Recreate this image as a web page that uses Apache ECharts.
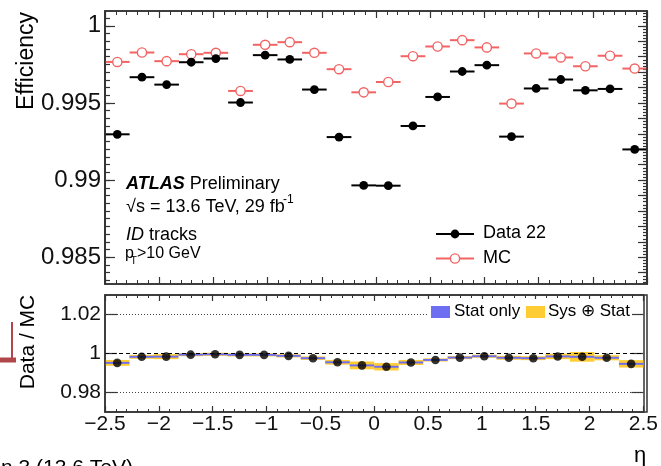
<!DOCTYPE html>
<html>
<head>
<meta charset="utf-8">
<script src="https://cdn.jsdelivr.net/npm/echarts@6/dist/echarts.min.js"></script>
</head>
<body style="margin:0">
<div id="container" style="width:661px;height:466px"></div>
<script>
// eta bin edges (22 bins)
var binEdges = [-2.5, -2.273, -2.045, -1.818, -1.591, -1.364, -1.136, -0.909, -0.682, -0.455, -0.227, 0,
                0.227, 0.455, 0.682, 0.909, 1.136, 1.364, 1.591, 1.818, 2.045, 2.273, 2.5];
var dataEff = [0.99297, 0.99667, 0.99619, 0.99764, 0.99788, 0.99503, 0.99810, 0.99782, 0.99587, 0.99279, 0.98966,
               0.98964, 0.99351, 0.99539, 0.99704, 0.99745, 0.99282, 0.99594, 0.99652, 0.99582, 0.99591, 0.99199];
var mcEff = [0.99766, 0.99827, 0.99771, 0.99816, 0.99825, 0.99578, 0.99877, 0.99894, 0.99825, 0.99719, 0.99569,
             0.99636, 0.99803, 0.99866, 0.99907, 0.99860, 0.99496, 0.99821, 0.99795, 0.99738, 0.99806, 0.99723];
var ratio = [0.9952, 0.9983, 0.9984, 0.9994, 0.9996, 0.9993, 0.9993, 0.9988, 0.9976, 0.9955, 0.9939,
             0.9932, 0.9954, 0.9967, 0.9979, 0.9986, 0.9978, 0.9976, 0.9985, 0.9983, 0.9978, 0.9947];
var statErr = [0.0005, 0.0005, 0.0005, 0.0005, 0.0005, 0.0005, 0.0005, 0.0005, 0.0005, 0.0005, 0.0005,
               0.0005, 0.0005, 0.0005, 0.0005, 0.0005, 0.0005, 0.0005, 0.0005, 0.0005, 0.0005, 0.0005];
var sysErr = [0.0015, 0.001, 0.0013, 0.0008, 0.0008, 0.0008, 0.0008, 0.0008, 0.0009, 0.0012, 0.002,
              0.0019, 0.0013, 0.0008, 0.0008, 0.0008, 0.001, 0.001, 0.0014, 0.0025, 0.0013, 0.0019];
var topTicks = [0.985, 0.99, 0.995, 1];
var ratioTicks = [0.98, 1, 1.02];

var FONT = 'Liberation Sans, Arial, sans-serif';
var axisColor = '#333';
var red = '#f26464';

function steps(a, b, d) {
    var out = [];
    for (var v = a; v <= b + 1e-9; v += d) out.push(Math.round(v * 1e5) / 1e5);
    return out;
}

var binned = function (vals, errs) {
    return vals.map(function (v, i) {
        return [binEdges[i], binEdges[i + 1], v, errs ? errs[i] : 0];
    });
};
var centers = ratio.map(function (r, i) { return [(binEdges[i] + binEdges[i + 1]) / 2, r]; });

function effItem(color, filled) {
    return function (params, api) {
        var lo = api.coord([api.value(0), api.value(2)]);
        var hi = api.coord([api.value(1), api.value(2)]);
        return {
            type: 'group',
            children: [
                {type: 'line', shape: {x1: lo[0], y1: lo[1], x2: hi[0], y2: hi[1]}, style: {stroke: color, lineWidth: 2}},
                {type: 'circle', shape: {cx: (lo[0] + hi[0]) / 2, cy: lo[1], r: filled ? 4.4 : 4.6},
                 style: {fill: filled ? color : '#fff', stroke: color, lineWidth: filled ? 0 : 1.4}}
            ]
        };
    };
}
function bandItem(color) {
    return function (params, api) {
        var p1 = api.coord([api.value(0), api.value(2) + api.value(3)]);
        var p2 = api.coord([api.value(1), api.value(2) - api.value(3)]);
        return {type: 'rect', shape: {x: p1[0], y: p1[1], width: p2[0] - p1[0], height: p2[1] - p1[1]}, style: {fill: color}};
    };
}

function xAx(grid, pos, showLabel, len, minorLen) {
    return {
        type: 'value', gridIndex: grid, position: pos, min: -2.5, max: 2.5, interval: 0.5,
        axisLine: {show: true, onZero: false, lineStyle: {color: axisColor, width: 1.5}},
        axisTick: {show: true, inside: true, length: len, lineStyle: {color: axisColor, width: 1.2}},
        minorTick: {show: true, splitNumber: 5, length: minorLen, lineStyle: {color: axisColor, width: 1}},
        splitLine: {show: false},
        axisLabel: {show: showLabel, fontSize: 21, fontFamily: FONT, color: '#111', margin: 2,
            formatter: function (v) { return String(v).replace('-', '\u2212'); }}
    };
}
function yAx(grid, pos, min, max, ticks, len, showLabel, fs) {
    return {
        type: 'value', gridIndex: grid, position: pos, min: min, max: max,
        axisLine: {show: true, onZero: false, lineStyle: {color: axisColor, width: 1.5}},
        axisTick: {show: true, inside: true, length: len, customValues: ticks, lineStyle: {color: axisColor, width: 1.2}},
        splitLine: {show: false},
        axisLabel: {show: showLabel, customValues: ticks, fontSize: fs, fontFamily: FONT, color: '#111', margin: 4,
            padding: [3, 0, 0, 0],
            formatter: function (v) { return String(v); }}
    };
}

var yTopMin = 0.98327, yTopMax = 1.00096;

var txt = function (x, y, text, size, extra) {
    var s = {text: text, x: x, y: y, fontSize: size, fontFamily: FONT, fill: '#000', verticalAlign: 'middle', align: 'left'};
    for (var k in extra) s[k] = extra[k];
    return {type: 'text', z: 100, style: s};
};

var myChart = echarts.init(document.getElementById('container'));
var option = {
    animation: false,
    grid: [
        {left: 105, top: 11, width: 542, height: 273, show: false},
        {left: 105, top: 295, width: 542, height: 117, show: false}
    ],
    xAxis: [
        xAx(0, 'bottom', false, 7, 4),
        xAx(0, 'top', false, 7, 4),
        xAx(1, 'bottom', true, 6, 3),
        xAx(1, 'top', false, 6, 3)
    ],
    yAxis: [
        yAx(0, 'left', yTopMin, yTopMax, topTicks, 10, true, 24),
        yAx(0, 'left', yTopMin, yTopMax, steps(0.9835, 1.0005, 0.0005), 5, false, 10),
        yAx(0, 'right', yTopMin, yTopMax, steps(0.984, 1, 0.001), 9, false, 10),
        yAx(0, 'right', yTopMin, yTopMax, steps(0.9834, 1.0008, 0.0002), 4, false, 10),
        yAx(1, 'left', 0.97, 1.03, ratioTicks, 12, true, 21),
        yAx(1, 'right', 0.97, 1.03, ratioTicks, 12, false, 10)
    ],
    series: [
        {type: 'custom', name: 'MC', xAxisIndex: 0, yAxisIndex: 0, renderItem: effItem(red, false),
         encode: {x: [0, 1], y: 2}, data: binned(mcEff), z: 3},
        {type: 'custom', name: 'Data 22', xAxisIndex: 0, yAxisIndex: 0, renderItem: effItem('#000', true),
         encode: {x: [0, 1], y: 2}, data: binned(dataEff), z: 4},
        {type: 'line', xAxisIndex: 2, yAxisIndex: 4, data: [], z: 1,
         markLine: {silent: true, symbol: 'none', label: {show: false},
            data: [
                {yAxis: 1, lineStyle: {type: [4, 3], color: '#000', width: 1}},
                {yAxis: 1.02, lineStyle: {type: [1, 2], color: '#444', width: 1}},
                {yAxis: 0.98, lineStyle: {type: [1, 2], color: '#444', width: 1}}
            ]}},
        {type: 'custom', name: 'Sys', xAxisIndex: 2, yAxisIndex: 4, renderItem: bandItem('#ffcc33'),
         encode: {x: [0, 1], y: 2}, data: binned(ratio, sysErr), z: 2},
        {type: 'custom', name: 'Stat', xAxisIndex: 2, yAxisIndex: 4, renderItem: bandItem('#6e6ef2'),
         encode: {x: [0, 1], y: 2}, data: binned(ratio, statErr), z: 3},
        {type: 'scatter', xAxisIndex: 2, yAxisIndex: 4, data: centers, symbolSize: 8.6,
         itemStyle: {color: '#000'}, z: 5}
    ],
    graphic: [
        // frames
        {type: 'rect', z: 50, shape: {x: 105, y: 11, width: 542, height: 273}, style: {fill: 'none', stroke: axisColor, lineWidth: 1.5}},
        {type: 'rect', z: 50, shape: {x: 105, y: 295, width: 542, height: 117}, style: {fill: 'none', stroke: axisColor, lineWidth: 1.5}},
        // axis titles
        {type: 'text', z: 100, x: 27, y: 61, rotation: Math.PI / 2,
         style: {text: 'Efficiency', fontSize: 23, fontFamily: FONT, fill: '#000', align: 'center', verticalAlign: 'middle'}},
        {type: 'text', z: 100, x: 28, y: 342, rotation: Math.PI / 2,
         style: {text: 'Data / MC', fontSize: 21, fontFamily: FONT, fill: '#000', align: 'center', verticalAlign: 'middle'}},
        txt(640, 456, '\u03b7', 22, {align: 'center'}),
        // ATLAS label
        {type: 'text', z: 100, style: {x: 126, y: 184, text: '{b|ATLAS} Preliminary', fontSize: 18, fontFamily: FONT, fill: '#000',
            verticalAlign: 'middle', rich: {b: {fontSize: 18, fontWeight: 'bold', fontStyle: 'italic', fontFamily: FONT}}}},
        txt(126, 207, '\u221As = 13.6 TeV, 29 fb', 18),
        txt(283, 199.5, '-1', 12),
        {type: 'text', z: 100, style: {x: 126, y: 235, text: '{i|ID} tracks', fontSize: 18, fontFamily: FONT, fill: '#000',
            verticalAlign: 'middle', rich: {i: {fontSize: 18, fontStyle: 'italic', fontFamily: FONT}}}},
        txt(125, 253.5, 'p', 16),
        txt(130.5, 261, 'T', 10.5),
        txt(137, 253.5, '>10 GeV', 16),
        // top legend
        {type: 'line', z: 100, shape: {x1: 436, y1: 234, x2: 474, y2: 234}, style: {stroke: '#000', lineWidth: 2}},
        {type: 'circle', z: 100, shape: {cx: 455, cy: 234, r: 4.4}, style: {fill: '#000'}},
        txt(483, 233.5, 'Data 22', 18),
        {type: 'line', z: 100, shape: {x1: 436, y1: 258.5, x2: 474, y2: 258.5}, style: {stroke: red, lineWidth: 2}},
        {type: 'circle', z: 100, shape: {cx: 455, cy: 258.5, r: 4.6}, style: {fill: '#fff', stroke: red, lineWidth: 1.4}},
        txt(483, 258.5, 'MC', 18),
        // ratio legend
        {type: 'rect', z: 60, shape: {x: 427, y: 299, width: 205, height: 23}, style: {fill: '#fff'}},
        {type: 'rect', z: 100, shape: {x: 431, y: 306, width: 19, height: 12}, style: {fill: '#6e6ef2'}},
        txt(454, 311, 'Stat only', 17),
        {type: 'rect', z: 100, shape: {x: 526, y: 306, width: 19, height: 12}, style: {fill: '#ffcc33'}},
        txt(548, 311, 'Sys \u2295 Stat', 17),
        // cropped fragments at the edges of the picture
        {type: 'rect', z: 100, shape: {x: 11, y: 322, width: 2, height: 36}, style: {fill: '#b0464a'}},
        {type: 'rect', z: 100, shape: {x: 0, y: 357.5, width: 16, height: 5}, style: {fill: '#b0464a'}},
        txt(133, 468, 'Run 3 (13.6 TeV)', 21, {align: 'right'})
    ]
};
myChart.setOption(option);
</script>
</body>
</html>
